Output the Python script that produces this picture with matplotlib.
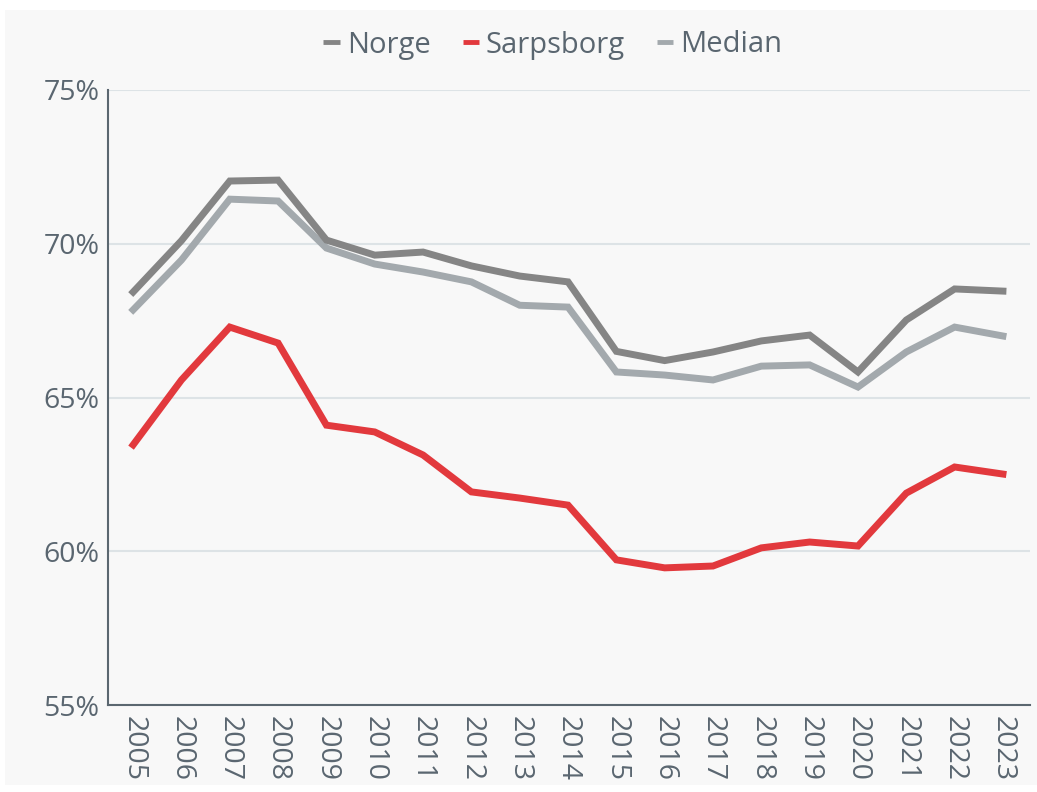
import matplotlib.pyplot as plt
from matplotlib.patches import Rectangle
from matplotlib.ticker import FuncFormatter

years = list(range(2005, 2024))
norge = [68.43, 70.1, 72.04, 72.07, 70.12, 69.63, 69.73, 69.28, 68.95, 68.76,
         66.5, 66.2, 66.48, 66.84, 67.03, 65.83, 67.52, 68.53, 68.46]
sarpsborg = [63.46, 65.57, 67.29, 66.77, 64.1, 63.88, 63.13, 61.93, 61.73, 61.5,
             59.72, 59.46, 59.52, 60.11, 60.3, 60.17, 61.89, 62.74, 62.51]
median = [67.85, 69.47, 71.45, 71.39, 69.86, 69.34, 69.08, 68.76, 68.0, 67.94,
          65.83, 65.73, 65.57, 66.02, 66.06, 65.34, 66.48, 67.29, 67.0]
y_ticks = [55, 60, 65, 70, 75]

plt.rcParams['font.family'] = ['Open Sans', 'DejaVu Sans']
text_color = '#5a6670'
bg = '#f8f8f8'

fig = plt.figure(figsize=(10.37, 7.92), dpi=100, facecolor='white')
fig.patches.append(Rectangle((5 / 1037, 7 / 792), 1 - 5 / 1037, 1 - 17 / 792,
                             transform=fig.transFigure, facecolor=bg,
                             edgecolor='none', zorder=-10))
ax = fig.add_axes([108 / 1037, 1 - 705 / 792, (1030 - 108) / 1037, (705 - 90) / 792])
ax.set_facecolor(bg)

ax.plot(years, norge, color='#858585', lw=5, label='Norge', solid_joinstyle='miter', zorder=3)
ax.plot(years, sarpsborg, color='#e2393d', lw=5, label='Sarpsborg', solid_joinstyle='miter', zorder=3)
ax.plot(years, median, color='#a3a9ad', lw=5, label='Median', solid_joinstyle='miter', zorder=2)

ax.set_xlim(2004.48, 2023.56)
ax.set_ylim(55, 75)
ax.set_yticks(y_ticks)
ax.yaxis.set_major_formatter(FuncFormatter(lambda v, p: '%d%%' % v))
ax.set_xticks(years)
ax.set_xticklabels([str(y) for y in years], rotation=-90)
ax.grid(axis='y', color='#dde3e6', lw=1.5)
ax.set_axisbelow(True)
for s in ['top', 'right']:
    ax.spines[s].set_visible(False)
for s in ['left', 'bottom']:
    ax.spines[s].set_color('#5b6770')
    ax.spines[s].set_linewidth(1.5)
ax.tick_params(axis='both', length=0, labelsize=20.5, colors=text_color, pad=6)
ax.tick_params(axis='x', pad=8)

leg = fig.legend(loc='center', bbox_to_anchor=(553 / 1037, 1 - 45 / 792), ncol=3,
                 frameon=False, fontsize=21, handlelength=0.55, handletextpad=0.25,
                 columnspacing=1.1)
for t in leg.get_texts():
    t.set_color(text_color)
for h in leg.get_lines():
    h.set_linewidth(3.5)
    h.set_solid_capstyle('butt')

fig.savefig('out.png', dpi=100, facecolor='white')
